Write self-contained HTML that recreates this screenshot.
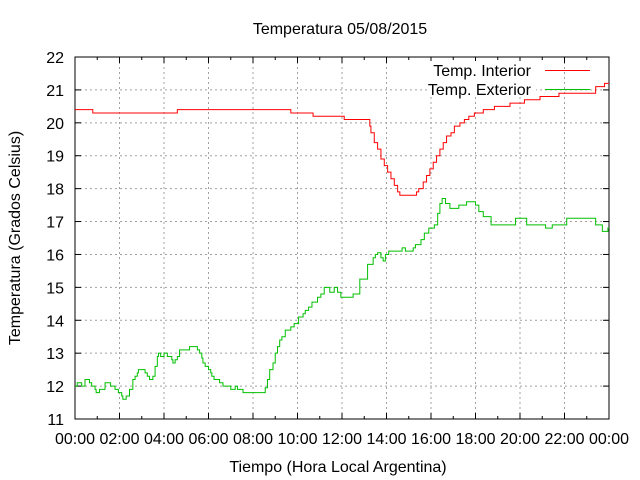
<!DOCTYPE html>
<html><head><meta charset="utf-8"><style>
body{margin:0;background:#fff;}
svg{display:block;font-family:"Liberation Sans",sans-serif;}
</style></head><body>
<svg id="chart" width="640" height="480">
<text x="340" y="34" text-anchor="middle" font-size="16">Temperatura 05/08/2015</text>
<text x="338" y="472" text-anchor="middle" font-size="16">Tiempo (Hora Local Argentina)</text>
<text transform="translate(20,238) rotate(-90)" text-anchor="middle" font-size="16">Temperatura (Grados Celsius)</text>
<g id="grid"></g><g id="axes"></g><g id="legend"></g><g id="series"></g>
</svg>
<script>
const xTickLabels=["00:00","02:00","04:00","06:00","08:00","10:00","12:00","14:00","16:00","18:00","20:00","22:00","00:00"];
const yTickValues=[11,12,13,14,15,16,17,18,19,20,21,22];
const interiorTimes=[0,0.8,4.6,9.7,10.7,12.1,13.25,13.3,13.45,13.6,13.75,13.9,14.05,14.2,14.35,14.5,14.6,15.35,15.45,15.65,15.8,15.95,16.1,16.25,16.4,16.55,16.7,16.9,17.05,17.3,17.5,17.7,17.95,18.35,18.85,19.55,20.2,20.9,21.75,23.4,23.8];
const interiorValues=[20.4,20.3,20.4,20.3,20.2,20.1,19.9,19.7,19.4,19.2,18.9,18.7,18.5,18.3,18.1,17.9,17.8,17.9,18.0,18.2,18.4,18.6,18.8,19.0,19.2,19.4,19.6,19.7,19.9,20.0,20.1,20.2,20.3,20.4,20.5,20.6,20.7,20.8,20.9,21.1,21.2];
const exteriorTimes=[0,0.1,0.3,0.45,0.65,0.75,0.9,0.95,1.1,1.35,1.6,1.8,1.95,2.1,2.15,2.3,2.45,2.6,2.7,2.8,2.85,3.15,3.25,3.35,3.5,3.6,3.7,3.75,3.85,4.0,4.15,4.35,4.4,4.5,4.6,4.7,5.15,5.5,5.6,5.7,5.75,5.85,6.0,6.1,6.15,6.25,6.5,6.65,7.0,7.2,7.3,7.55,8.5,8.55,8.65,8.75,8.9,9.0,9.1,9.2,9.3,9.45,9.7,9.85,10.05,10.25,10.35,10.5,10.65,10.9,11.05,11.2,11.45,11.65,11.8,11.95,12.5,12.8,13.15,13.4,13.5,13.6,13.75,13.85,13.95,14.1,14.7,14.85,15.2,15.3,15.55,15.7,15.9,16.15,16.3,16.4,16.5,16.65,16.85,17.25,17.6,18.0,18.15,18.35,18.7,19.8,20.3,21.15,21.45,22.1,23.4,23.7,23.95];
const exteriorValues=[12.0,12.1,12.0,12.2,12.1,12.0,11.9,11.8,11.9,12.1,12.0,11.9,11.8,11.7,11.6,11.7,11.9,12.2,12.3,12.4,12.5,12.4,12.3,12.2,12.3,12.6,12.9,13.0,12.9,13.0,12.9,12.8,12.7,12.8,12.9,13.1,13.2,13.1,13.0,12.85,12.7,12.6,12.5,12.4,12.3,12.2,12.1,12.0,11.9,12.0,11.9,11.8,11.8,11.95,12.2,12.5,12.7,13.0,13.2,13.4,13.5,13.7,13.8,13.9,14.1,14.2,14.3,14.4,14.55,14.7,14.8,15.0,14.85,15.0,14.85,14.7,14.8,15.25,15.7,15.9,16.0,16.05,15.9,15.8,16.0,16.1,16.2,16.1,16.2,16.3,16.45,16.65,16.8,16.9,17.25,17.55,17.7,17.55,17.4,17.5,17.6,17.5,17.3,17.15,16.9,17.1,16.9,16.8,16.9,17.1,16.9,16.7,16.8];
const X0=75,X1=609,Y0=419,Y1=57;
const xs=h=>X0+(X1-X0)*h/24;
const ys=v=>Y0-(Y0-Y1)*(v-11)/11;
const NS="http://www.w3.org/2000/svg";
function mk(tag,attrs,parent){const e=document.createElementNS(NS,tag);for(const k in attrs)e.setAttribute(k,attrs[k]);parent.appendChild(e);return e;}
const grid=document.getElementById('grid'),axes=document.getElementById('axes'),series=document.getElementById('series'),legend=document.getElementById('legend');
xTickLabels.forEach((lab,i)=>{const x=xs(i*2);
 if(i>0&&i<xTickLabels.length-1){const g=mk('line',{x1:x,x2:x,y1:Y0,y2:Y1,stroke:'#a0a0a0','stroke-dasharray':'2,3'},grid);
 
 }
 mk('line',{x1:x,x2:x,y1:Y0,y2:Y0-6,stroke:'#000'},axes);
 mk('line',{x1:x,x2:x,y1:Y1,y2:Y1+6,stroke:'#000'},axes);
 const t=mk('text',{x:x,y:444,'text-anchor':'middle','font-size':16},axes);t.textContent=lab;
 
 
 if(i<xTickLabels.length-1){const xm=xs(i*2+1);mk('line',{x1:xm,x2:xm,y1:Y0,y2:Y0-3,stroke:'#000'},axes);mk('line',{x1:xm,x2:xm,y1:Y1,y2:Y1+3,stroke:'#000'},axes);}
});
yTickValues.forEach(v=>{const y=ys(v);
 if(v>11&&v<22){const g=mk('line',{x1:X0,x2:X1,y1:y,y2:y,stroke:'#a0a0a0','stroke-dasharray':'2,3'},grid);
 
 }
 mk('line',{x1:X0,x2:X0+6,y1:y,y2:y,stroke:'#000'},axes);
 mk('line',{x1:X1,x2:X1-6,y1:y,y2:y,stroke:'#000'},axes);
 const t=mk('text',{x:64,y:y+6,'text-anchor':'end','font-size':16},axes);t.textContent=String(v);
 
 
});
const frame=mk('rect',{x:X0,y:Y1,width:X1-X0,height:Y0-Y1,fill:'none',stroke:'#000'},axes);


function stepPath(ts,vs){let d='M'+xs(ts[0])+','+ys(vs[0]);for(let i=1;i<ts.length;i++){d+='H'+xs(ts[i])+'V'+ys(vs[i]);}d+='H'+xs(24);return d;}
mk('rect',{x:428,y:61,width:108,height:36,fill:'#fff'},legend);
const pi=mk('path',{d:stepPath(interiorTimes,interiorValues),fill:'none',stroke:'#ff0000','stroke-width':1},series);


const pe=mk('path',{d:stepPath(exteriorTimes,exteriorValues),fill:'none',stroke:'#00c000','stroke-width':1},series);


const l1=mk('text',{x:531,y:76,'text-anchor':'end','font-size':16},legend);l1.textContent='Temp. Interior';


const k1=mk('line',{x1:545,x2:590,y1:70.5,y2:70.5,stroke:'#ff0000'},legend);


const l2=mk('text',{x:531,y:95,'text-anchor':'end','font-size':16},legend);l2.textContent='Temp. Exterior';


const k2=mk('line',{x1:545,x2:590,y1:89.5,y2:89.5,stroke:'#00c000'},legend);


</script>
</body></html>
